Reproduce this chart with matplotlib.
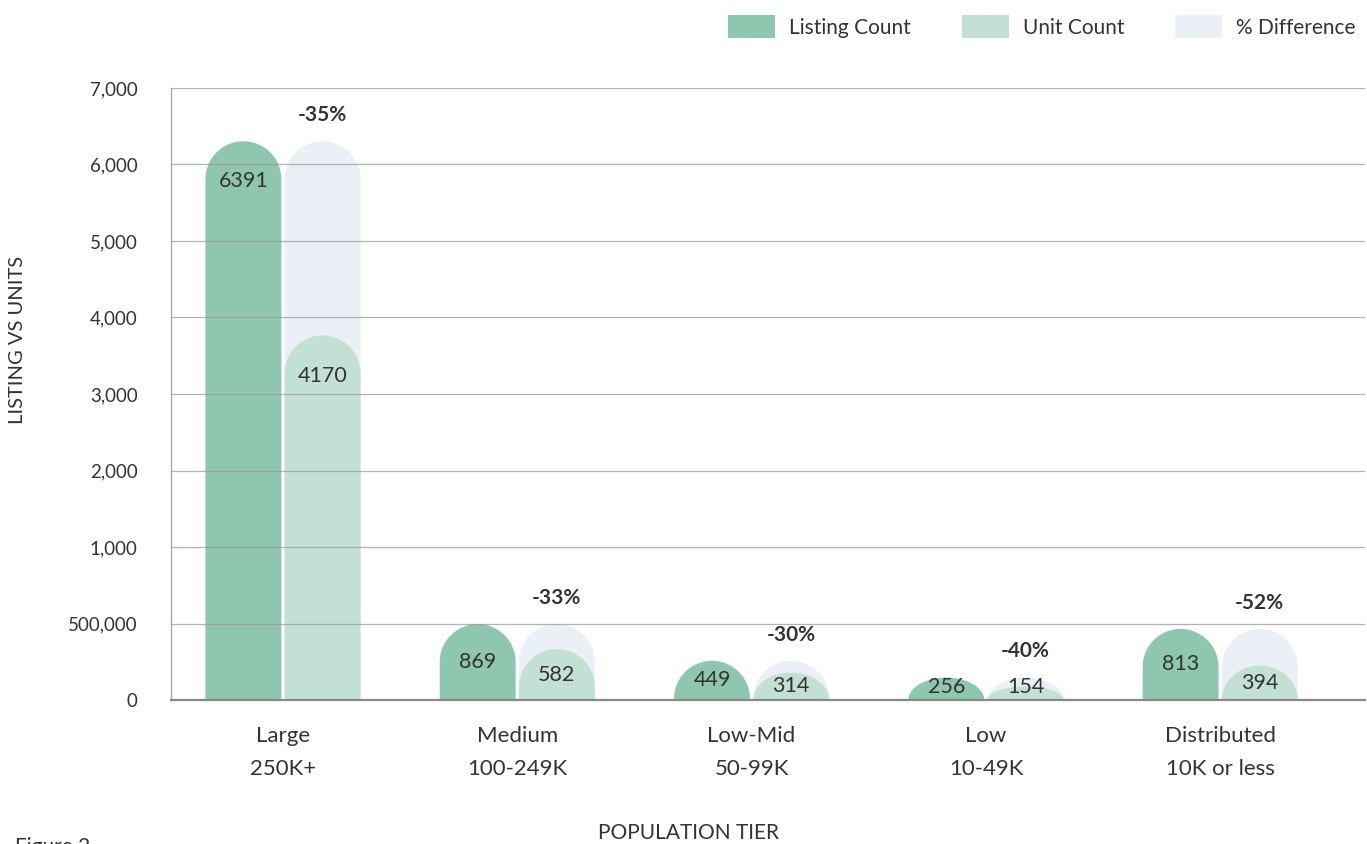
import matplotlib
matplotlib.use('Agg')
import matplotlib.pyplot as plt
import numpy as np
from matplotlib.path import Path
from matplotlib.patches import PathPatch, Patch

# ---------------- data ----------------
categories = ['Large', 'Medium', 'Low-Mid', 'Low', 'Distributed']
tiers = ['250K+', '100-249K', '50-99K', '10-49K', '10K or less']
listing_count = [6391, 869, 449, 256, 813]
unit_count = [4170, 582, 314, 154, 394]
pct_diff = [-35, -33, -30, -40, -52]
y_tick_labels = ['0', '500,000', '1,000', '2,000', '3,000', '4,000',
                 '5,000', '6,000', '7,000']
y_max = 7000

# ---------------- style ----------------
plt.rcParams['font.family'] = ['Lato', 'DejaVu Sans']
C_LIST = '#8FC6B0'
C_UNIT = '#C3E0D5'
C_DIFF = '#EBF0F6'
TXT = '#333333'

W, H, DPI = 1367, 844, 100
fig = plt.figure(figsize=(W / DPI, H / DPI), dpi=DPI)
ax_left, ax_right, ax_bottom, ax_top = 171 / W, 1365 / W, 1 - 700 / H, 1 - 88 / H
ax = fig.add_axes([ax_left, ax_bottom, ax_right - ax_left, ax_top - ax_bottom])

xlim = (-0.478, 4.618)
ax.set_xlim(*xlim)
ax.set_ylim(0, y_max)

bar_w = 0.324
off = 0.169

# pixel aspect for round caps
ax_w_px = (ax_right - ax_left) * W
ax_h_px = (ax_top - ax_bottom) * H
px_per_x = ax_w_px / (xlim[1] - xlim[0])
px_per_y = ax_h_px / y_max


def rounded_bar(xc, w, h, color, z):
    rx = w / 2
    ry = rx * px_per_x / px_per_y
    cap = min(h, ry)
    base = h - cap
    t = np.linspace(np.pi, 0, 60)
    xs = xc + rx * np.cos(t)
    ys = base + cap * np.sin(t)
    verts = [(xc - rx, 0)] + list(zip(xs, ys)) + [(xc + rx, 0), (xc - rx, 0)]
    codes = [Path.MOVETO] + [Path.LINETO] * (len(verts) - 2) + [Path.CLOSEPOLY]
    ax.add_patch(PathPatch(Path(verts, codes), facecolor=color,
                           edgecolor='none', zorder=z))


x = np.arange(len(categories))
for i in range(len(categories)):
    xl = x[i] - off
    xu = x[i] + off
    rounded_bar(xu, bar_w, listing_count[i], C_DIFF, 1.0)
    rounded_bar(xu, bar_w, unit_count[i], C_UNIT, 1.2)
    rounded_bar(xl, bar_w, listing_count[i], C_LIST, 1.2)
    for xc, v in ((xl, listing_count[i]), (xu, unit_count[i])):
        ly = max(v - 460, v * 0.5, 150)
        ax.text(xc, ly, f'{v}', ha='center', va='center', fontsize=15.5,
                color=TXT, zorder=5)
    ax.text(xu, listing_count[i] + 300, f'{pct_diff[i]}%', ha='center',
            va='center', fontsize=15, fontweight='bold', color=TXT,
            zorder=5)

# axes
ax.set_yticks(np.linspace(0, y_max, len(y_tick_labels)))
ax.set_yticklabels(y_tick_labels, fontsize=13.5, color=TXT)
ax.set_xticks(x)
ax.set_xticklabels([f'{c}\n{t}' for c, t in zip(categories, tiers)],
                   fontsize=16, color=TXT, linespacing=1.8)
ax.tick_params(axis='y', length=0, pad=24)
ax.tick_params(axis='x', length=0, pad=19)
ax.set_axisbelow(False)
ax.yaxis.grid(True, color='#9a9a9a', linewidth=0.9, alpha=0.75)
for s in ('top', 'right'):
    ax.spines[s].set_visible(False)
ax.spines['left'].set_color('#aaaaaa')
ax.spines['left'].set_linewidth(1)
ax.spines['bottom'].set_color('#888888')
ax.spines['bottom'].set_linewidth(1.6)

fig.text(18 / W, 1 - 340 / H, 'LISTING VS UNITS', rotation=90, ha='center',
         va='center', fontsize=14.5, color=TXT)
fig.text(688 / W, 1 - 833 / H, 'POPULATION TIER', ha='center', va='center',
         fontsize=15, color=TXT)
fig.text(15 / W, 1 - 837 / H, 'Figure 2', ha='left', va='top', fontsize=15,
         color=TXT)

handles = [Patch(facecolor=C_LIST, edgecolor='none', label='Listing Count'),
           Patch(facecolor=C_UNIT, edgecolor='none', label='Unit Count'),
           Patch(facecolor=C_DIFF, edgecolor='none', label='% Difference')]
fig.legend(handles=handles, loc='upper right', bbox_to_anchor=(1.0055, 1.004),
           ncol=3, frameon=False, fontsize=15, handlelength=2.26,
           handleheight=1.3, handletextpad=0.67, columnspacing=2.45,
           labelcolor=TXT)

fig.savefig('out.png', dpi=DPI)
